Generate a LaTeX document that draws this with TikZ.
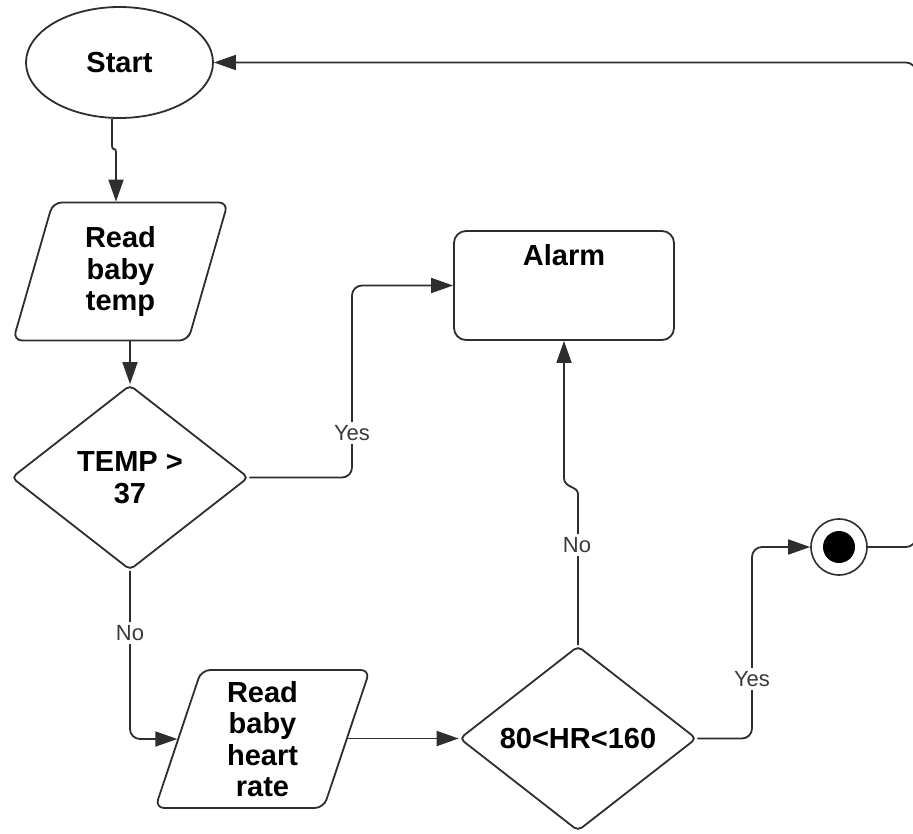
\documentclass[tikz,border=0pt]{standalone}
\usepackage{fontspec}
\setmainfont{Liberation Sans}
\usetikzlibrary{shapes.geometric,arrows.meta}
\definecolor{ink}{HTML}{2E2E2E}
\definecolor{lblgray}{HTML}{3A3A3A}
\begin{document}
\begin{tikzpicture}[x=1pt,y=-1pt,
  every node/.style={inner sep=0pt},
  shapeline/.style={draw=ink, line width=1.8pt, fill=white},
  title/.style={font=\fontsize{29}{31.5}\selectfont\bfseries, align=center, text=black},
  terminal/.style={shapeline, title, ellipse, minimum width=187pt, minimum height=111pt},
  io/.style={shapeline, title, trapezium, trapezium left angle=77, trapezium right angle=103,
    trapezium stretches=true, minimum width=215pt, minimum height=138pt, rounded corners=9pt},
  decision/.style={shapeline, title, diamond, aspect=1.28, minimum width=237pt,
    minimum height=185pt, rounded corners=5pt},
  process/.style={shapeline, rectangle, minimum width=220pt, minimum height=109pt, rounded corners=12pt},
  conn/.style={draw=ink, line width=1.8pt, rounded corners=10pt, -{Triangle[length=22pt,width=15pt]}},
  lbl/.style={font=\fontsize{22}{24}\selectfont, text=lblgray, fill=white, inner sep=3pt}
]
\useasboundingbox (0,0) rectangle (913,833);
\fill[white] (0,0) rectangle (913,833);

% shapes
\node[terminal] (start) at (119.5,62.5) {Start};
\node[io] (readT) at (120.5,271.5) {Read\\baby\\temp};
\node[decision] (tempQ) at (130,477.5) {TEMP >\\37};
\node[process] (alarm) at (564,285.5) {};
\node[title] (alarmTxt) at (564,255) {Alarm};
\node[io] (readHR) at (262.5,739) {Read\\baby\\heart\\rate};
\node[decision] (hrQ) at (578,738.5) {80<HR<160};
\node[circle, draw=ink, line width=1.6pt, fill=white, minimum size=56pt] (stop) at (839,547) {};
\node[circle, fill=black, minimum size=32pt] (stopDot) at (stop) {};

% bend points of the connectors
\coordinate (yesT) at (352,433);
\coordinate (noT) at (130,633);
\coordinate (noH) at (577,545);
\coordinate (yesH) at (752,679);
\coordinate (loopR) at (916,0);

% connectors
\draw[conn, sharp corners] (start.south -| 112,0) -- (112,146)
  .. controls (112,151) and (116,147) .. (116,152) -- (readT.north -| 116,0);
\draw[conn] (readT.south -| tempQ.north) -- (tempQ.north);
\draw[conn] (tempQ.east) -| (yesT |- alarm.west) -- (alarm.west);
\draw[conn] (tempQ.south) |- (readHR.west);
\draw[conn] (readHR.east |- hrQ.west) -- (hrQ.west);
\draw[conn, sharp corners] (hrQ.north) -- (578,494)
  .. controls (578,486) and (564,488) .. (564,478) -- (alarm.south);
\draw[conn] (hrQ.east) -| (yesH |- stop.west) -- (stop.west);
\draw[conn] (stop.east) -| (loopR |- start.east) -- (start.east);

% connector labels
\node[lbl] (yesTlbl) at (yesT) {Yes};
\node[lbl] (noTlbl) at (noT) {No};
\node[lbl] (noHlbl) at (noH) {No};
\node[lbl] (yesHlbl) at (yesH) {Yes};
\end{tikzpicture}
\end{document}
